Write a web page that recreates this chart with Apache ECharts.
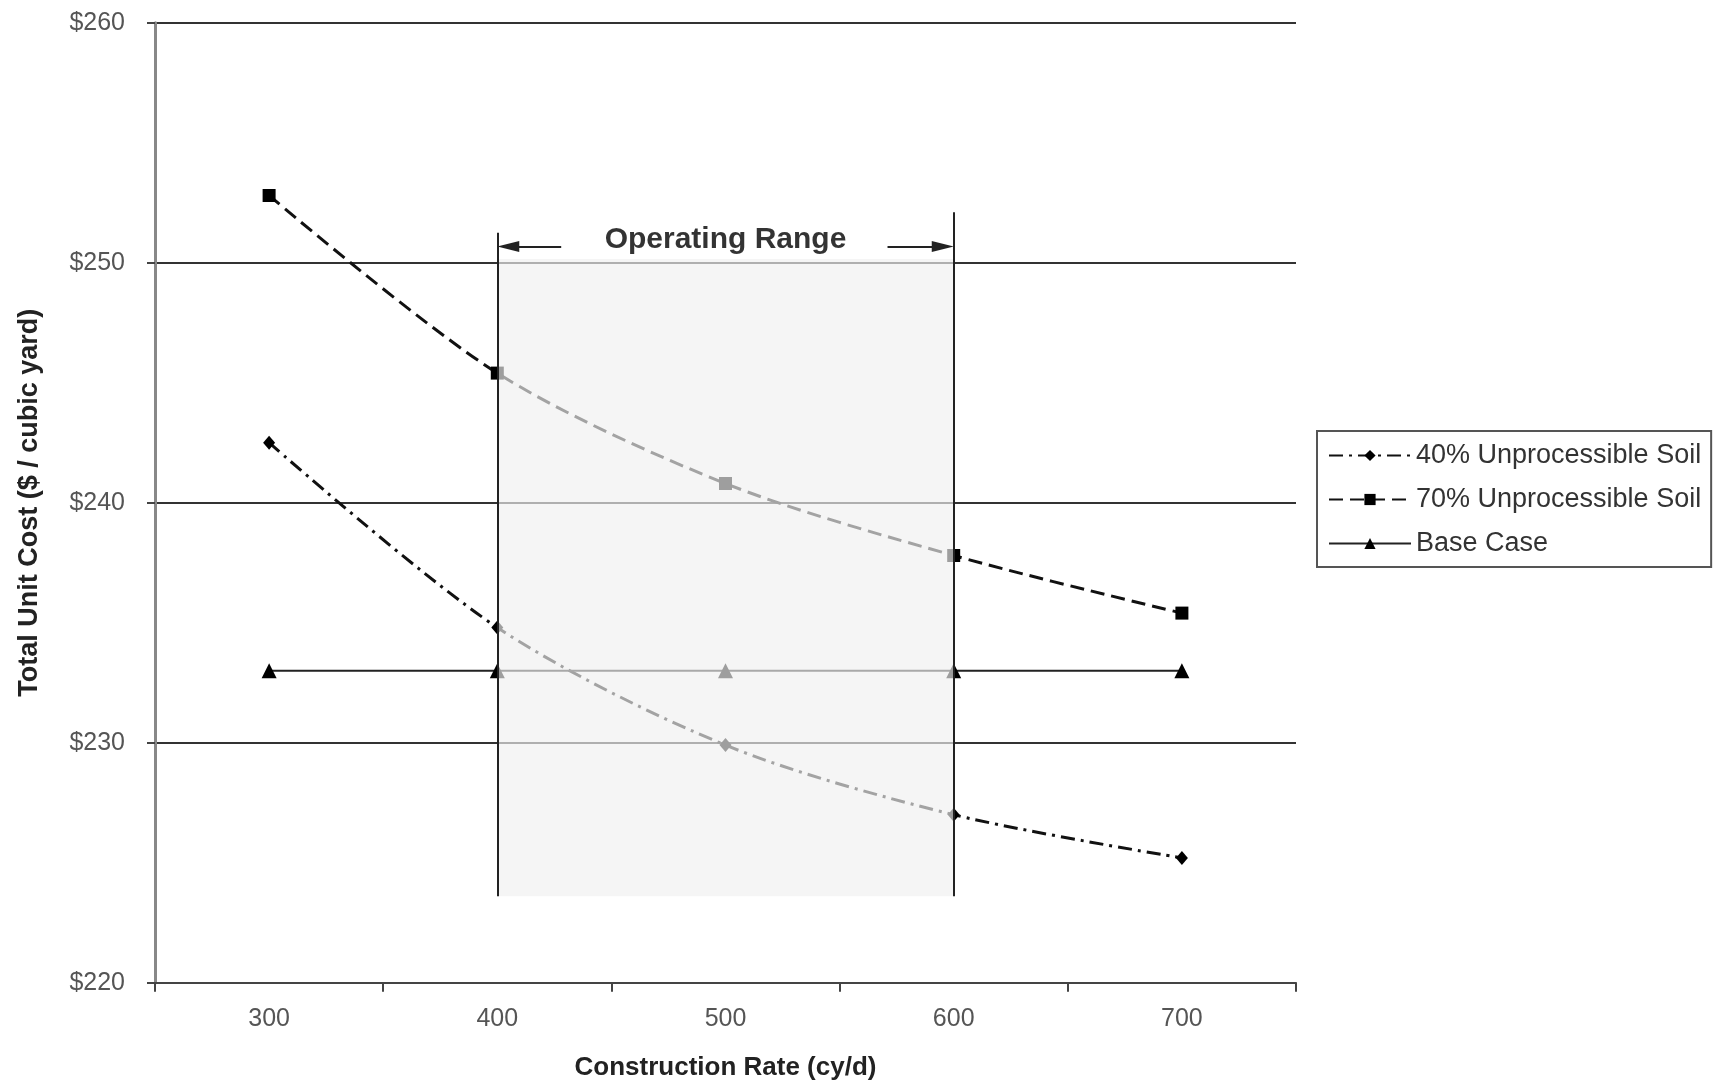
<!DOCTYPE html>
<html>
<head>
<meta charset="utf-8">
<script src="https://cdn.jsdelivr.net/npm/echarts@6/dist/echarts.min.js"></script>
<style>
html,body{margin:0;padding:0;background:#fff;}
#chart{width:1722px;height:1086px;}
</style>
</head>
<body>
<div id="chart"></div>
<script>
// ---- data ----
const categories = ['300', '400', '500', '600', '700'];
const soil40 = [242.5, 234.8, 229.9, 227.0, 225.2];
const soil70 = [252.8, 245.4, 240.8, 237.8, 235.4];
const baseCase = [233.0, 233.0, 233.0, 233.0, 233.0];
const yMin = 220, yMax = 260, yStep = 10;

// operating range annotation (data units)
const rangeX = [400, 600];
const rangeY = [223.6, 250.15];
const rangeLineTops = [251.25, 252.1];
const arrowY = 250.67;
const arrowTails = [428, 571];
const arrowTips = [404.8, 595.2];
const rangeLabel = { x: 500, y: 250.97, text: 'Operating Range' };

const FONT = 'Liberation Sans, Arial, sans-serif';
const chart = echarts.init(document.getElementById('chart'));

const option = {
  animation: false,
  backgroundColor: '#fff',
  grid: { left: 155, right: 426, top: 22.7, bottom: 103.3 },
  legend: {
    orient: 'vertical',
    left: 1317, top: 431,
    padding: [11, 10, 10, 11],
    itemGap: 17,
    itemWidth: 82, itemHeight: 14,
    borderColor: '#555', borderWidth: 2,
    textStyle: { fontFamily: FONT, fontSize: 27, color: '#333' },
    data: ['40% Unprocessible Soil', '70% Unprocessible Soil', 'Base Case']
  },
  xAxis: [
    {
      type: 'category', data: categories, boundaryGap: true,
      name: 'Construction Rate (cy/d)', nameLocation: 'middle', nameGap: 72,
      nameTextStyle: { fontFamily: FONT, fontSize: 26, fontWeight: 'bold', color: '#222' },
      axisLine: { lineStyle: { color: '#444', width: 2 } },
      axisTick: { show: true, length: 9, lineStyle: { color: '#444', width: 2 } },
      axisLabel: { fontFamily: FONT, fontSize: 25, color: '#555', margin: 24 },
      splitLine: { show: false }
    },
    {
      type: 'value', min: 250, max: 750, show: false
    }
  ],
  yAxis: {
    type: 'value', min: yMin, max: yMax, interval: yStep,
    name: 'Total Unit Cost ($ / cubic yard)', nameLocation: 'middle', nameGap: 112,
    nameRotate: 90,
    nameTextStyle: { fontFamily: FONT, fontSize: 27, fontWeight: 'bold', color: '#222' },
    axisLine: { show: true, lineStyle: { color: '#888', width: 3 } },
    axisTick: { show: true, length: 8, lineStyle: { color: '#444', width: 2 } },
    axisLabel: { fontFamily: FONT, fontSize: 25, color: '#555', margin: 30,
      formatter: v => '$' + v },
    splitLine: { show: true, lineStyle: { color: '#333', width: 2 } }
  },
  series: [
    {
      name: '40% Unprocessible Soil', type: 'line', data: soil40, smooth: 0.3,
      symbol: 'diamond', symbolSize: [12, 14],
      itemStyle: { color: '#000' },
      lineStyle: { color: '#111', width: 3, type: [14, 6, 3, 6] }, z: 3
    },
    {
      name: '70% Unprocessible Soil', type: 'line', data: soil70, smooth: 0.3,
      symbol: 'rect', symbolSize: 13,
      itemStyle: { color: '#000' },
      lineStyle: { color: '#111', width: 3, type: [14, 7] }, z: 3
    },
    {
      name: 'Base Case', type: 'line', data: baseCase,
      symbol: 'triangle', symbolSize: 15,
      itemStyle: { color: '#000' },
      lineStyle: { color: '#222', width: 2, type: 'solid' }, z: 3
    },
    {
      name: 'range-overlay', type: 'custom', xAxisIndex: 1, z: 4, silent: true,
      data: [[rangeX[0], rangeX[1], rangeY[0], rangeY[1]]],
      encode: { x: [0, 1], y: [2, 3] },
      renderItem: (params, api) => {
        const p1 = api.coord([api.value(0), api.value(3)]);
        const p2 = api.coord([api.value(1), api.value(2)]);
        return {
          type: 'rect',
          shape: { x: p1[0], y: p1[1], width: p2[0] - p1[0], height: p2[1] - p1[1] },
          style: { fill: 'rgba(240,240,240,0.66)' }
        };
      }
    },
    {
      name: 'range-lines', type: 'scatter', xAxisIndex: 1, z: 8, silent: true,
      symbolSize: 0,
      data: [[rangeLabel.x, rangeLabel.y]],
      label: {
        show: true, position: 'inside', formatter: rangeLabel.text,
        fontFamily: FONT, fontSize: 30, fontWeight: 'bold', color: '#000'
      },
      markLine: {
        silent: true, symbol: ['none', 'none'], z: 9,
        label: { show: false },
        lineStyle: { color: '#222', width: 2, type: 'solid' },
        data: [
          [{ coord: [rangeX[0], rangeY[0]] }, { coord: [rangeX[0], rangeLineTops[0]] }],
          [{ coord: [rangeX[1], rangeY[0]] }, { coord: [rangeX[1], rangeLineTops[1]] }],
          [{ coord: [arrowTails[0], arrowY], symbol: 'none' }, { coord: [arrowTips[0], arrowY], symbol: 'triangle', symbolSize: [11, 22] }],
          [{ coord: [arrowTails[1], arrowY], symbol: 'none' }, { coord: [arrowTips[1], arrowY], symbol: 'triangle', symbolSize: [11, 22] }]
        ]
      }
    }
  ]
};
chart.setOption(option);
</script>
</body>
</html>
